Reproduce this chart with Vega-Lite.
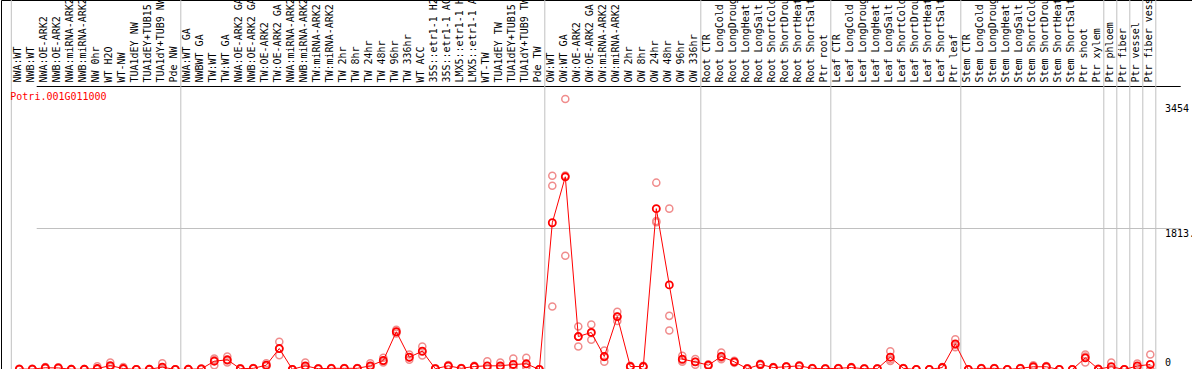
{
"$schema": "https://vega.github.io/schema/vega-lite/v6.json",
"width": 1191,
"height": 369,
"autosize": "none",
"padding": {"left": 1, "top": 0, "right": 0, "bottom": 0},
"background": "white",
"config": {"view": {"stroke": "#000000", "strokeWidth": 1}, "axis": {"labelFont": "DejaVu Sans Mono"}},
"datasets": {
"samples": [
{"s":"NWA:WT","m":5,"r1":3,"r2":5,"r3":8},
{"s":"NWB:WT","m":5,"r1":3,"r2":5,"r3":8},
{"s":"NWA:OE-ARK2","m":22,"r1":15,"r2":22,"r3":30},
{"s":"NWB:OE-ARK2","m":20,"r1":15,"r2":20,"r3":28},
{"s":"NWA:miRNA-ARK2","m":3,"r1":2,"r2":3,"r3":5},
{"s":"NWB:miRNA-ARK2","m":3,"r1":2,"r2":3,"r3":5},
{"s":"NW 0hr","m":12,"r1":5,"r2":10,"r3":40},
{"s":"WT H2O","m":50,"r1":30,"r2":40,"r3":90},
{"s":"WT-NW","m":12,"r1":5,"r2":10,"r3":30},
{"s":"TUA1dEY NW","m":2,"r1":1,"r2":2,"r3":3},
{"s":"TUA1dEY+TUB15 NW","m":3,"r1":2,"r2":3,"r3":5},
{"s":"TUA1dY+TUB9 NW","m":30,"r1":10,"r2":20,"r3":80},
{"s":"Pde NW","m":0,"r1":0,"r2":0,"r3":0},
{"s":"NWA:WT GA","m":3,"r1":2,"r2":3,"r3":5},
{"s":"NWBWT GA","m":8,"r1":5,"r2":8,"r3":12},
{"s":"TW:WT","m":106,"r1":55,"r2":120,"r3":140},
{"s":"TW:WT GA","m":124,"r1":90,"r2":115,"r3":166},
{"s":"NWA:OE-ARK2 GA","m":10,"r1":5,"r2":10,"r3":15},
{"s":"NWB:OE-ARK2 GA","m":15,"r1":10,"r2":15,"r3":20},
{"s":"TW:OE-ARK2","m":55,"r1":40,"r2":50,"r3":80},
{"s":"TW:OE-ARK2 GA","m":268,"r1":183,"r2":268,"r3":354},
{"s":"NWA:miRNA-ARK2 GA","m":2,"r1":1,"r2":2,"r3":3},
{"s":"NWB:miRNA-ARK2 GA","m":47,"r1":20,"r2":35,"r3":90},
{"s":"TW:miRNA-ARK2","m":10,"r1":5,"r2":10,"r3":15},
{"s":"TW:miRNA-ARK2 GA","m":15,"r1":10,"r2":15,"r3":20},
{"s":"TW 2hr","m":15,"r1":10,"r2":15,"r3":20},
{"s":"TW 8hr","m":15,"r1":10,"r2":15,"r3":20},
{"s":"TW 24hr","m":47,"r1":30,"r2":40,"r3":80},
{"s":"TW 48hr","m":115,"r1":90,"r2":105,"r3":150},
{"s":"TW 96hr","m":482,"r1":460,"r2":480,"r3":507},
{"s":"TW 336hr","m":157,"r1":124,"r2":155,"r3":192},
{"s":"WT ACC","m":234,"r1":180,"r2":228,"r3":294},
{"s":"35S::etr1-1 H2O","m":10,"r1":5,"r2":10,"r3":15},
{"s":"35S::etr1-1 ACC","m":47,"r1":40,"r2":45,"r3":56},
{"s":"LMX5::etr1-1 H2O","m":15,"r1":10,"r2":15,"r3":20},
{"s":"LMX5::etr1-1 ACC","m":38,"r1":30,"r2":38,"r3":46},
{"s":"WT-TW","m":47,"r1":15,"r2":20,"r3":106},
{"s":"TUA1dEY TW","m":47,"r1":20,"r2":30,"r3":90},
{"s":"TUA1dEY+TUB15 TW","m":64,"r1":20,"r2":32,"r3":140},
{"s":"TUA1dY+TUB9 TW","m":73,"r1":30,"r2":40,"r3":150},
{"s":"Pde TW","m":0,"r1":0,"r2":0,"r3":0},
{"s":"OW:WT","m":1874,"r1":805,"r2":2346,"r3":2474},
{"s":"OW:WT GA","m":2461,"r1":1452,"r2":2477,"r3":3454},
{"s":"OW:OE-ARK2","m":421,"r1":294,"r2":420,"r3":549},
{"s":"OW:OE-ARK2 GA","m":473,"r1":380,"r2":465,"r3":575},
{"s":"OW:miRNA-ARK2","m":166,"r1":98,"r2":160,"r3":242},
{"s":"OW:miRNA-ARK2 GA","m":676,"r1":620,"r2":672,"r3":736},
{"s":"OW 2hr","m":38,"r1":30,"r2":38,"r3":46},
{"s":"OW 8hr","m":38,"r1":30,"r2":38,"r3":46},
{"s":"OW 24hr","m":2054,"r1":1880,"r2":1895,"r3":2386},
{"s":"OW 48hr","m":1080,"r1":498,"r2":685,"r3":2054},
{"s":"OW 96hr","m":132,"r1":100,"r2":120,"r3":175},
{"s":"OW 336hr","m":98,"r1":60,"r2":100,"r3":135},
{"s":"Root CTR","m":55,"r1":45,"r2":55,"r3":65},
{"s":"Root LongCold","m":166,"r1":130,"r2":150,"r3":217},
{"s":"Root LongDrought","m":98,"r1":85,"r2":98,"r3":110},
{"s":"Root LongHeat","m":10,"r1":5,"r2":10,"r3":15},
{"s":"Root LongSalt","m":64,"r1":55,"r2":64,"r3":73},
{"s":"Root ShortCold","m":25,"r1":20,"r2":25,"r3":30},
{"s":"Root ShortDrought","m":35,"r1":30,"r2":35,"r3":40},
{"s":"Root ShortHeat","m":47,"r1":40,"r2":47,"r3":55},
{"s":"Root ShortSalt","m":15,"r1":10,"r2":15,"r3":20},
{"s":"Ptr root","m":10,"r1":5,"r2":10,"r3":15},
{"s":"Leaf CTR","m":15,"r1":10,"r2":15,"r3":20},
{"s":"Leaf LongCold","m":25,"r1":20,"r2":25,"r3":30},
{"s":"Leaf LongDrought","m":10,"r1":5,"r2":10,"r3":15},
{"s":"Leaf LongHeat","m":10,"r1":5,"r2":10,"r3":15},
{"s":"Leaf LongSalt","m":157,"r1":110,"r2":128,"r3":234},
{"s":"Leaf ShortCold","m":15,"r1":10,"r2":15,"r3":20},
{"s":"Leaf ShortDrought","m":0,"r1":0,"r2":0,"r3":0},
{"s":"Leaf ShortHeat","m":0,"r1":0,"r2":0,"r3":0},
{"s":"Leaf ShortSalt","m":25,"r1":20,"r2":25,"r3":30},
{"s":"Ptr leaf","m":328,"r1":285,"r2":312,"r3":387},
{"s":"Stem CTR","m":0,"r1":0,"r2":0,"r3":0},
{"s":"Stem LongCold","m":15,"r1":10,"r2":15,"r3":20},
{"s":"Stem LongDrought","m":15,"r1":10,"r2":15,"r3":20},
{"s":"Stem LongHeat","m":0,"r1":0,"r2":0,"r3":0},
{"s":"Stem LongSalt","m":15,"r1":10,"r2":15,"r3":20},
{"s":"Stem ShortCold","m":35,"r1":25,"r2":30,"r3":55},
{"s":"Stem ShortDrought","m":35,"r1":25,"r2":35,"r3":45},
{"s":"Stem ShortHeat","m":0,"r1":0,"r2":0,"r3":0},
{"s":"Stem ShortSalt","m":0,"r1":0,"r2":0,"r3":0},
{"s":"Ptr shoot","m":149,"r1":89,"r2":167,"r3":191},
{"s":"Ptr xylem","m":5,"r1":3,"r2":5,"r3":8},
{"s":"Ptr phloem","m":35,"r1":5,"r2":10,"r3":89},
{"s":"Ptr fiber","m":0,"r1":0,"r2":0,"r3":0},
{"s":"Ptr vessel","m":45,"r1":20,"r2":40,"r3":75},
{"s":"Ptr fiber vessel","m":64,"r1":0,"r2":0,"r3":191}
],
"starts": [{"s":"NWA:WT"}],
"ends": [{"s":"Pde NW"},{"s":"Pde TW"},{"s":"OW 336hr"},{"s":"Ptr root"},{"s":"Ptr leaf"},{"s":"Ptr xylem"},{"s":"Ptr phloem"},{"s":"Ptr fiber"},{"s":"Ptr vessel"},{"s":"Ptr fiber vessel"}],
"gene": [{"s":"NWA:WT","gene":"Potri.001G011000"}]
},
"encoding": {
"x": {"field": "s", "type": "nominal", "title": null,
"scale": {"type": "band", "paddingInner": 0, "paddingOuter": 0, "round": false, "range": [11.8, 1155.8],
"domain": ["NWA:WT","NWB:WT","NWA:OE-ARK2","NWB:OE-ARK2","NWA:miRNA-ARK2","NWB:miRNA-ARK2","NW 0hr","WT H2O","WT-NW","TUA1dEY NW","TUA1dEY+TUB15 NW","TUA1dY+TUB9 NW","Pde NW","NWA:WT GA","NWBWT GA","TW:WT","TW:WT GA","NWA:OE-ARK2 GA","NWB:OE-ARK2 GA","TW:OE-ARK2","TW:OE-ARK2 GA","NWA:miRNA-ARK2 GA","NWB:miRNA-ARK2 GA","TW:miRNA-ARK2","TW:miRNA-ARK2 GA","TW 2hr","TW 8hr","TW 24hr","TW 48hr","TW 96hr","TW 336hr","WT ACC","35S::etr1-1 H2O","35S::etr1-1 ACC","LMX5::etr1-1 H2O","LMX5::etr1-1 ACC","WT-TW","TUA1dEY TW","TUA1dEY+TUB15 TW","TUA1dY+TUB9 TW","Pde TW","OW:WT","OW:WT GA","OW:OE-ARK2","OW:OE-ARK2 GA","OW:miRNA-ARK2","OW:miRNA-ARK2 GA","OW 2hr","OW 8hr","OW 24hr","OW 48hr","OW 96hr","OW 336hr","Root CTR","Root LongCold","Root LongDrought","Root LongHeat","Root LongSalt","Root ShortCold","Root ShortDrought","Root ShortHeat","Root ShortSalt","Ptr root","Leaf CTR","Leaf LongCold","Leaf LongDrought","Leaf LongHeat","Leaf LongSalt","Leaf ShortCold","Leaf ShortDrought","Leaf ShortHeat","Leaf ShortSalt","Ptr leaf","Stem CTR","Stem LongCold","Stem LongDrought","Stem LongHeat","Stem LongSalt","Stem ShortCold","Stem ShortDrought","Stem ShortHeat","Stem ShortSalt","Ptr shoot","Ptr xylem","Ptr phloem","Ptr fiber","Ptr vessel","Ptr fiber vessel"]},
"axis": {"orient": "top", "offset": -85, "ticks": false, "grid": false, "domain": false, "labelAngle": 270, "labelAlign": "left", "labelBaseline": "middle", "labelPadding": 3, "labelFontSize": 10, "labelColor": "#000000", "labelOverlap": false, "labelLimit": 300, "labelOffset": -1.5, "labelFlush": false}
}
},
"layer": [
{"data": {"name": "starts"}, "mark": {"type": "rule", "color": "#c0c0c0", "strokeWidth": 1, "xOffset": -8}, "encoding": {}},
{"data": {"name": "ends"}, "mark": {"type": "rule", "color": "#c0c0c0", "strokeWidth": 1, "xOffset": 5.5}, "encoding": {}},
{"data": {"name": "samples"},
 "transform": [{"fold": ["r1","r2","r3"], "as": ["rep","value"]}],
 "mark": {"type": "point", "shape": "circle", "filled": false, "size": 50, "stroke": "#f08c8c", "strokeWidth": 1.5, "opacity": 1},
 "encoding": {"y": {"field": "value", "type": "quantitative", "title": null,
  "scale": {"domain": [0, 3626.7], "range": [369.5, 85.5], "nice": false, "zero": true},
  "axis": {"orient": "right", "offset": -29.5, "title": null, "values": [0, 1813.35, 3454, 3626.7], "domain": false, "ticks": false, "grid": true, "gridWidth": 1,
   "gridColor": {"condition": {"test": "datum.value > 3600", "value": "#000000"}, "value": "#c0c0c0"},
   "gridOpacity": {"condition": {"test": "datum.value > 1800 && datum.value < 1900 || datum.value > 3600", "value": 1}, "value": 0},
   "labelAlign": "left", "labelPadding": 2, "labelFontSize": 10, "labelColor": "#000000",
   "labelBaseline": {"condition": {"test": "datum.value === 0", "value": "bottom"}, "value": "top"},
   "labelOffset": {"condition": [{"test": "datum.value === 3454", "value": 4}, {"test": "datum.value === 0", "value": -2}], "value": 1},
   "labelExpr": "datum.value > 3600 ? '' : datum.value > 1800 && datum.value < 1900 ? '1813.' : format(datum.value, 'd')",
   "labelFlush": false, "labelOverlap": false}}}},
{"data": {"name": "samples"},
 "mark": {"type": "line", "color": "#ff0000", "strokeWidth": 1},
 "encoding": {"y": {"field": "m", "type": "quantitative", "title": null, "scale": {"domain": [0, 3626.7], "range": [369.5, 85.5], "nice": false, "zero": true}}, "order": {"value": null}}},
{"data": {"name": "samples"},
 "mark": {"type": "point", "shape": "circle", "filled": false, "size": 50, "stroke": "#ff0000", "strokeWidth": 1.8, "opacity": 1},
 "encoding": {"y": {"field": "m", "type": "quantitative", "title": null, "scale": {"domain": [0, 3626.7], "range": [369.5, 85.5], "nice": false, "zero": true}}}},
{"data": {"name": "gene"},
 "mark": {"type": "text", "color": "#ff0000", "align": "left", "baseline": "middle", "dx": -9, "dy": 11, "fontSize": 10, "font": "DejaVu Sans Mono"},
 "encoding": {"text": {"field": "gene"}, "y": {"datum": 3626.7, "type": "quantitative", "title": null, "scale": {"domain": [0, 3626.7], "range": [369.5, 85.5], "nice": false, "zero": true}}}}
]
}
